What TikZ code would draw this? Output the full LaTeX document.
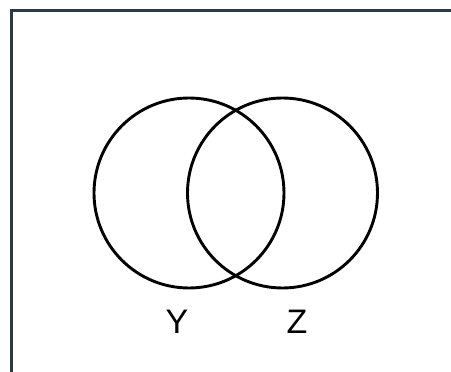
\documentclass[tikz,border=0pt]{standalone}
\usepackage{fontspec}
\setmainfont{Liberation Sans}
\definecolor{frame}{HTML}{2B3A44}
\begin{document}
\begin{tikzpicture}[x=1pt,y=-1pt,
  venn/.style={draw=black,line width=2.9pt},
  lbl/.style={font=\fontsize{34}{40}\selectfont,inner sep=0pt}]
\useasboundingbox (0,0) rectangle (451,372);
\draw[frame,line width=3pt] (11.5,372) -- (11.5,10) -- (451,10);
\node[venn,circle,minimum size=190pt,inner sep=0pt] (Y) at (189,193) {};
\node[venn,circle,minimum size=190pt,inner sep=0pt] (Z) at (282.5,193) {};
\node[lbl] (ly) at (177,322) {Y};
\node[lbl] (lz) at (297,322) {Z};
\end{tikzpicture}
\end{document}
